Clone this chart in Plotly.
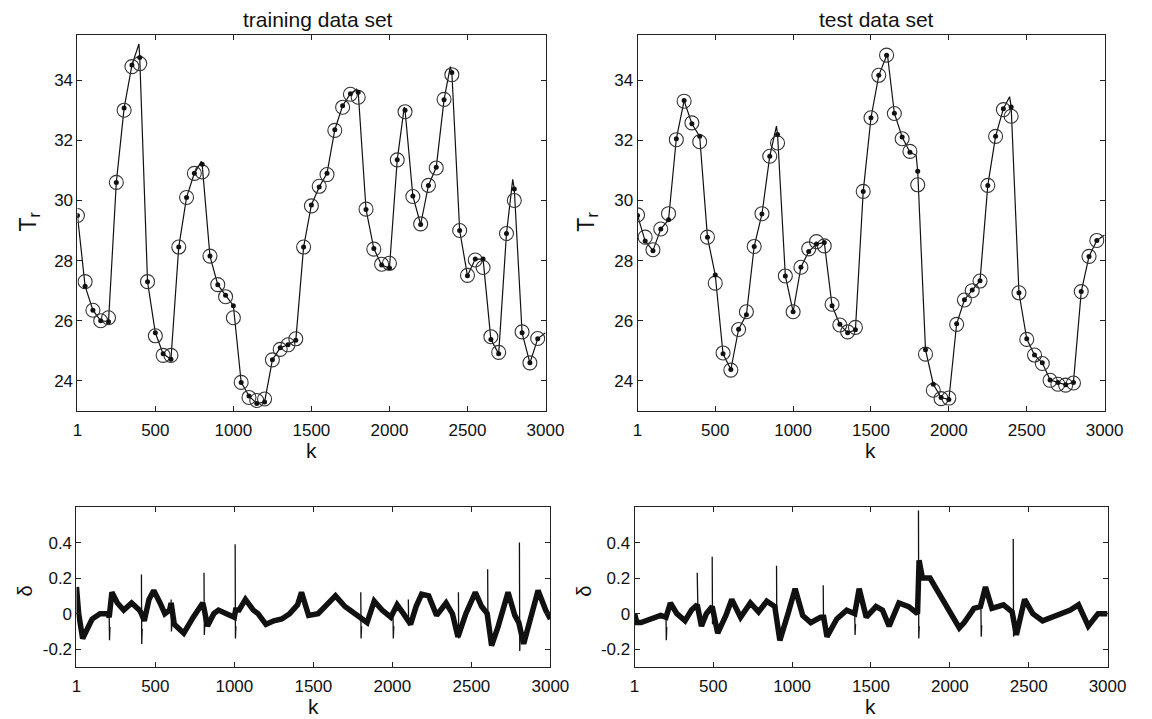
import plotly.graph_objects as go

# ---- sampling grid of the marked samples (every 50 steps) ----
sample_k = [1] + list(range(50, 3000, 50))

# ---- training data set: measured (circles) and model (dots) ----
train_meas = [29.5, 27.3, 26.35, 26.0, 26.1, 30.6, 33.0, 34.45, 34.55, 27.3,
              25.5, 24.85, 24.85, 28.45, 30.1, 30.9, 30.95, 28.15, 27.2, 26.8,
              26.1, 23.95, 23.45, 23.35, 23.4, 24.7, 25.05, 25.2, 25.4, 28.45,
              29.82, 30.47, 30.86, 32.33, 33.1, 33.53, 33.43, 29.71, 28.38, 27.88,
              27.91, 31.35, 32.95, 30.13, 29.22, 30.5, 31.08, 33.36, 34.18, 29.0,
              27.51, 28.02, 27.77, 25.47, 24.95, 28.9, 30.0, 25.63, 24.6, 25.41]
train_model = [29.5, 27.15, 26.35, 26.0, 25.97, 30.6, 33.07, 34.5, 34.75, 27.3,
               25.6, 24.9, 24.72, 28.45, 30.1, 30.9, 31.2, 28.15, 27.2, 26.85,
               26.5, 23.95, 23.5, 23.25, 23.3, 24.7, 25.1, 25.2, 25.35, 28.45,
               29.85, 30.45, 30.9, 32.35, 33.15, 33.55, 33.6, 29.7, 28.4, 27.85,
               27.75, 31.35, 33.0, 30.15, 29.2, 30.5, 31.1, 33.35, 34.25, 29.0,
               27.5, 28.05, 28.05, 25.38, 24.9, 28.9, 30.38, 25.6, 24.6, 25.4]
# extra knots of the continuous model trace (peaks and end point)
train_peak_k = [395, 795, 1790, 2095, 2390, 2790, 3000]
train_peak_T = [35.2, 31.3, 33.7, 33.1, 34.45, 30.7, 25.6]

# ---- test data set ----
test_meas = [29.52, 28.78, 28.36, 29.05, 29.56, 32.02, 33.3, 32.58, 31.95, 28.78,
             27.25, 24.93, 24.36, 25.71, 26.3, 28.47, 29.56, 31.47, 31.91, 27.49,
             26.3, 27.78, 28.39, 28.63, 28.49, 26.55, 25.86, 25.63, 25.78, 30.3,
             32.75, 34.16, 34.83, 32.89, 32.05, 31.63, 30.52, 24.89, 23.69, 23.41,
             23.43, 25.88, 26.69, 27.0, 27.32, 30.5, 32.13, 33.02, 32.8, 26.93,
             25.38, 24.86, 24.58, 24.02, 23.89, 23.86, 23.93, 26.97, 28.14, 28.67]
test_model = [29.5, 28.65, 28.33, 29.05, 29.36, 32.05, 33.32, 32.55, 32.13, 28.78,
              27.52, 24.9, 24.38, 25.72, 26.2, 28.47, 29.55, 31.47, 32.19, 27.49,
              26.3, 27.78, 28.3, 28.55, 28.6, 26.5, 25.88, 25.6, 25.7, 30.3,
              32.75, 34.16, 34.83, 32.9, 32.11, 31.6, 30.97, 25.04, 23.89, 23.45,
              23.38, 25.9, 26.7, 27.02, 27.33, 30.5, 32.13, 33.05, 33.11, 26.93,
              25.4, 24.86, 24.6, 24.03, 23.95, 23.87, 23.95, 26.97, 28.14, 28.67]
test_peak_k = [893, 1605, 1790, 2390, 3000]
test_peak_T = [32.47, 34.87, 31.5, 33.45, 28.85]

# ---- prediction error delta: slow component ----
train_delta_k = [1, 15, 40, 70, 100, 150, 200, 208, 225, 260, 300, 350, 400, 412,
                 430, 460, 490, 530, 560, 590, 600, 620, 680, 740, 800, 808, 830,
                 870, 900, 950, 1000, 1008, 1030, 1070, 1120, 1150, 1200, 1250, 1300,
                 1350, 1400, 1425, 1470, 1530, 1590, 1640, 1700, 1760, 1800, 1840,
                 1885, 1935, 1990, 2030, 2070, 2115, 2150, 2185, 2230, 2280, 2340,
                 2380, 2415, 2465, 2525, 2565, 2600, 2628, 2670, 2732, 2775, 2800,
                 2831, 2876, 2922, 2970, 3000]
train_delta = [0.15, 0.0, -0.14, -0.08, -0.03, 0.0, 0.0, -0.02, 0.12, 0.06, 0.02,
               0.06, 0.02, 0.0, -0.04, 0.08, 0.13, 0.06, 0.0, 0.02, 0.06, -0.06,
               -0.11, -0.02, 0.06, 0.03, -0.07, 0.0, 0.02, 0.0, -0.02, 0.02, 0.02,
               0.08, 0.02, 0.0, -0.06, -0.04, -0.03, 0.0, 0.05, 0.12, -0.01, 0.0,
               0.06, 0.1, 0.04, 0.0, -0.03, -0.05, 0.07, 0.02, -0.02, 0.05, 0.0,
               -0.06, 0.04, 0.11, 0.1, -0.01, 0.06, 0.0, -0.13, 0.0, 0.12, 0.04,
               0.0, -0.18, -0.07, 0.12, -0.01, -0.05, -0.17, -0.01, 0.13, 0.02, -0.03]
# sharp spikes (position, top, bottom)
train_spike_k = [208, 412, 600, 808, 1005, 1800, 2004, 2101, 2418, 2603, 2804]
train_spike_hi = [0.0, 0.22, 0.08, 0.23, 0.39, 0.12, 0.0, 0.08, 0.12, 0.25, 0.4]
train_spike_lo = [-0.15, -0.17, -0.1, -0.12, -0.14, -0.14, -0.14, -0.07, -0.14, -0.1, -0.21]

test_delta_k = [1, 15, 42, 104, 166, 200, 228, 269, 321, 362, 398, 425, 456, 493,
                528, 580, 617, 673, 735, 787, 839, 890, 922, 974, 1019, 1067, 1118,
                1180, 1200, 1221, 1283, 1346, 1397, 1425, 1470, 1532, 1573, 1615,
                1677, 1739, 1795, 1805, 1826, 1874, 1926, 1988, 2060, 2091, 2153,
                2194, 2226, 2267, 2340, 2395, 2422, 2474, 2526, 2588, 2650, 2712,
                2764, 2816, 2878, 2940, 3000]
test_delta = [0.0, -0.05, -0.05, -0.03, -0.01, -0.02, 0.06, 0.0, -0.04, 0.02, 0.05,
              -0.07, 0.0, 0.04, -0.11, -0.01, 0.08, -0.02, 0.06, 0.01, 0.07, 0.04,
              -0.15, 0.0, 0.14, -0.01, -0.05, -0.02, -0.02, -0.13, -0.03, 0.02, 0.0,
              0.14, -0.02, 0.04, 0.02, -0.07, 0.06, 0.04, 0.0, 0.3, 0.2, 0.2, 0.12,
              0.02, -0.08, -0.05, 0.03, 0.04, 0.15, 0.03, 0.05, 0.01, -0.12, 0.08,
              0.0, -0.04, -0.02, 0.0, 0.02, 0.05, -0.07, 0.0, 0.0]
test_spike_k = [200, 398, 493, 901, 1197, 1397, 1801, 2197, 2402]
test_spike_hi = [0.0, 0.23, 0.32, 0.27, 0.16, 0.0, 0.58, 0.04, 0.42]
test_spike_lo = [-0.15, 0.0, -0.06, -0.1, -0.05, -0.12, -0.14, -0.13, -0.13]

FONT = "Liberation Sans, Arial, Helvetica, sans-serif"
INK = "#111111"


def model_trace(peak_k, peak_T, model):
    pts = sorted(list(zip(sample_k, model)) + list(zip(peak_k, peak_T)))
    return [p[0] for p in pts], [p[1] for p in pts]


def spike_path(ks, his, los):
    xs, ys = [], []
    for k, hi, lo in zip(ks, his, los):
        xs += [k, k + 2, k + 5, None]
        ys += [hi, lo, lo * 0.5, None]
    return xs, ys


fig = go.Figure()

panels = [
    ("x", "y", train_meas, train_model, train_peak_k, train_peak_T),
    ("x2", "y2", test_meas, test_model, test_peak_k, test_peak_T),
]
for xa, ya, meas, model, pk, pT in panels:
    lk, lT = model_trace(pk, pT, model)
    fig.add_trace(go.Scatter(x=lk, y=lT, mode="lines", xaxis=xa, yaxis=ya,
                             line=dict(color=INK, width=1.2), showlegend=False))
    fig.add_trace(go.Scatter(x=sample_k, y=meas, mode="markers", xaxis=xa, yaxis=ya,
                             marker=dict(symbol="circle-open", size=14,
                                         color="#333333", line=dict(width=1.1)),
                             showlegend=False))
    fig.add_trace(go.Scatter(x=sample_k, y=model, mode="markers", xaxis=xa, yaxis=ya,
                             marker=dict(symbol="circle", size=5, color=INK),
                             showlegend=False))

err_panels = [
    ("x3", "y3", train_delta_k, train_delta, train_spike_k, train_spike_hi, train_spike_lo),
    ("x4", "y4", test_delta_k, test_delta, test_spike_k, test_spike_hi, test_spike_lo),
]
for xa, ya, dk, dv, sk, shi, slo in err_panels:
    fig.add_trace(go.Scatter(x=dk, y=dv, mode="lines", xaxis=xa, yaxis=ya,
                             line=dict(color=INK, width=5.5), showlegend=False))
    sx, sy = spike_path(sk, shi, slo)
    fig.add_trace(go.Scatter(x=sx, y=sy, mode="lines", xaxis=xa, yaxis=ya,
                             line=dict(color=INK, width=1.3), showlegend=False))

W, H = 1152, 719


def px_x(a, b):
    return [a / W, b / W]


def px_y(top, bottom):
    return [1 - bottom / H, 1 - top / H]


axis_common = dict(showline=True, linecolor="#222222", linewidth=1, mirror="ticks",
                   ticks="inside", ticklen=5, tickcolor="#222222", showgrid=False,
                   zeroline=False, tickfont=dict(family=FONT, size=17, color=INK))
x_common = dict(axis_common, ticklabelstandoff=4)
k_ticks = [1, 500, 1000, 1500, 2000, 2500, 3000]

fig.update_layout(
    width=W, height=H, margin=dict(l=0, r=0, t=0, b=0),
    paper_bgcolor="white", plot_bgcolor="white",
    xaxis=dict(domain=px_x(74, 552), range=[1, 3000], tickvals=k_ticks, anchor="y", **x_common),
    yaxis=dict(domain=px_y(35, 411), range=[23, 35.5], tickvals=[24, 26, 28, 30, 32, 34],
               anchor="x", **axis_common),
    xaxis2=dict(domain=px_x(646, 1123), range=[1, 3000], tickvals=k_ticks, anchor="y2", **x_common),
    yaxis2=dict(domain=px_y(35, 411), range=[23, 35.5], tickvals=[24, 26, 28, 30, 32, 34],
                anchor="x2", **axis_common),
    xaxis3=dict(domain=px_x(73, 557), range=[1, 3000], tickvals=k_ticks, anchor="y3", **x_common),
    yaxis3=dict(domain=px_y(507, 667), range=[-0.3, 0.6], tickvals=[-0.2, 0, 0.2, 0.4],
                ticktext=["-0.2", "0", "0.2", "0.4"], anchor="x3", **axis_common),
    xaxis4=dict(domain=px_x(643, 1126), range=[1, 3000], tickvals=k_ticks, anchor="y4", **x_common),
    yaxis4=dict(domain=px_y(507, 667), range=[-0.3, 0.6], tickvals=[-0.2, 0, 0.2, 0.4],
                ticktext=["-0.2", "0", "0.2", "0.4"], anchor="x4", **axis_common),
)


def label(text, x, y, size=16, angle=0, yanchor="middle"):
    fig.add_annotation(text=text, x=x / W, y=1 - y / H, xref="paper", yref="paper",
                       showarrow=False, textangle=angle, borderpad=0,
                       font=dict(family=FONT, size=size, color=INK),
                       xanchor="center", yanchor=yanchor)


label("training data set", 320, 19, size=21)
label("test data set", 890, 19, size=21)
label("k", 313, 450, size=21)
label("k", 884, 450, size=21)
label("k", 315, 719, size=21, yanchor="bottom")
label("k", 884, 719, size=21, yanchor="bottom")
label("T<sub>r</sub>", 24, 222, size=23, angle=-90)
label("T<sub>r</sub>", 594, 222, size=23, angle=-90)
label("δ", 20, 591, size=20, angle=-90)
label("δ", 591, 591, size=20, angle=-90)

fig.write_html("out.html")
